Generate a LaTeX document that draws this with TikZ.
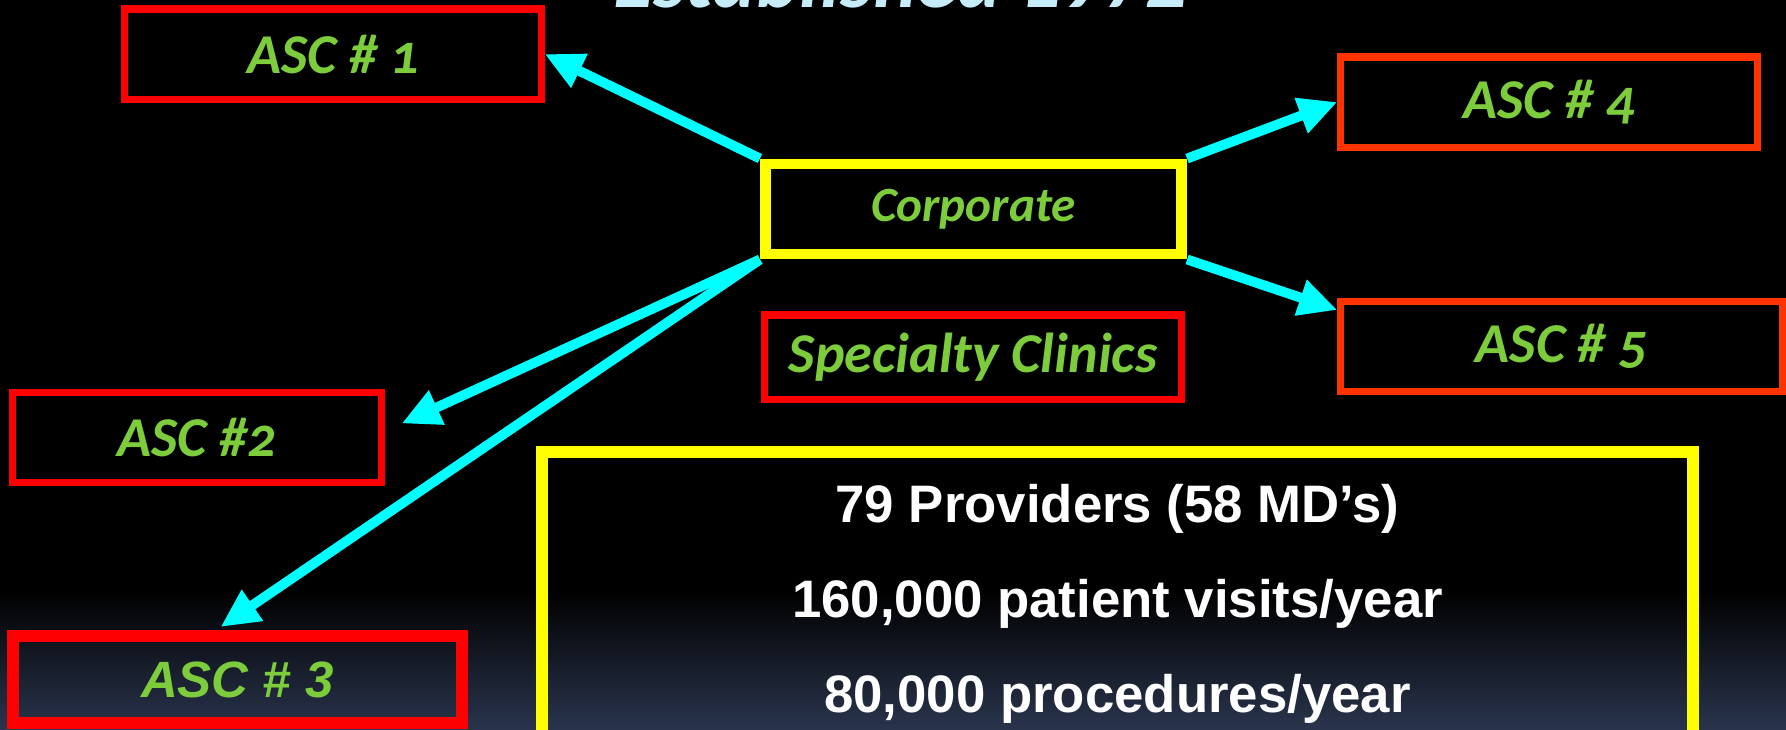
\documentclass[tikz,border=0pt]{standalone}
\usepackage{fontspec}
\setmainfont{Liberation Sans}
\newfontfamily\ascfont{Carlito}[Numbers=OldStyle]
\newfontfamily\titlefont{Carlito}
\usetikzlibrary{arrows.meta,calc}
\definecolor{unitgreen}{RGB}{124,204,60}
\definecolor{unitred}{RGB}{255,0,0}
\definecolor{unitorange}{RGB}{255,51,0}
\definecolor{hubyellow}{RGB}{255,255,0}
\definecolor{linkcyan}{RGB}{0,255,255}
\definecolor{titleblue}{RGB}{198,236,250}
\definecolor{backnavy}{RGB}{41,52,76}

\begin{document}
\begin{tikzpicture}[x=0.01cm, y=-0.01cm,
  >={Triangle[length=11pt, width=10pt]},
  unit/.style={draw=unitred, line width=2pt, minimum width=4.16cm,
               minimum height=0.9cm, inner sep=0pt, text=unitgreen,
               font=\ascfont\bfseries\itshape\fontsize{16}{18}\selectfont},
  hub/.style={unit, draw=hubyellow, line width=3.1pt,
              font=\ascfont\bfseries\itshape\fontsize{14}{16}\selectfont},
  link/.style={->, draw=linkcyan, line width=2.8pt}]
  % backdrop
  \useasboundingbox (0,0) rectangle (1786,729);
  \clip (0,0) rectangle (1786,729);
  \fill[black] (0,0) rectangle (1786,729);
  \shade[top color=black, bottom color=backnavy] (0,590) rectangle (1786,729);
  \node[anchor=base, inner sep=0pt, text=titleblue,
        font=\titlefont\bfseries\itshape\fontsize{23.5}{26}\selectfont]
     (est) at (900,7) {Established 1972};
  % centres
  \node[unit] (asc1) at (333,54) {ASC \# 1};
  \node[unit, draw=unitorange] (asc4) at (1549,102) {ASC \# 4};
  \node[unit, draw=unitorange, minimum width=4.41cm] (asc5) at (1561.5,346.5) {ASC \# 5};
  \node[hub] (corp) at (973.5,209) {Corporate};
  \node[unit, minimum height=0.84cm] (spec) at (973,357) {Specialty Clinics};
  \node[unit, minimum width=3.68cm] (asc2) at (197,437.5) {ASC \#2};
  \node[unit, minimum width=4.49cm, minimum height=0.87cm, line width=3.4pt,
        font=\bfseries\itshape\fontsize{14.5}{16}\selectfont]
     (asc3) at (237.5,679.5) {ASC \# 3};
  % figures
  \node[draw=hubyellow, line width=3.4pt, minimum width=11.51cm,
        minimum height=3.03cm, align=center, text=white,
        font=\bfseries\fontsize{15}{27}\selectfont]
     (facts) at (1117.5,603.5)
     {79 Providers (58 MD’s)\\160,000 patient visits/year\\80,000 procedures/year};
  % arrow ends
  \coordinate (to5) at ($(asc5.north west)+(0,12)$);
  \coordinate (to2) at ($(asc2.east)+(17,-14)$);
  \coordinate (to3) at ($(asc3.north)+(-17,-3)$);
  \foreach \a/\b in {corp.north west/asc1.east, corp.north east/asc4.west,
                     corp.south east/to5, corp.south west/to2,
                     corp.south west/to3}
    \draw[link] (\a) -- (\b);
\end{tikzpicture}
\end{document}
